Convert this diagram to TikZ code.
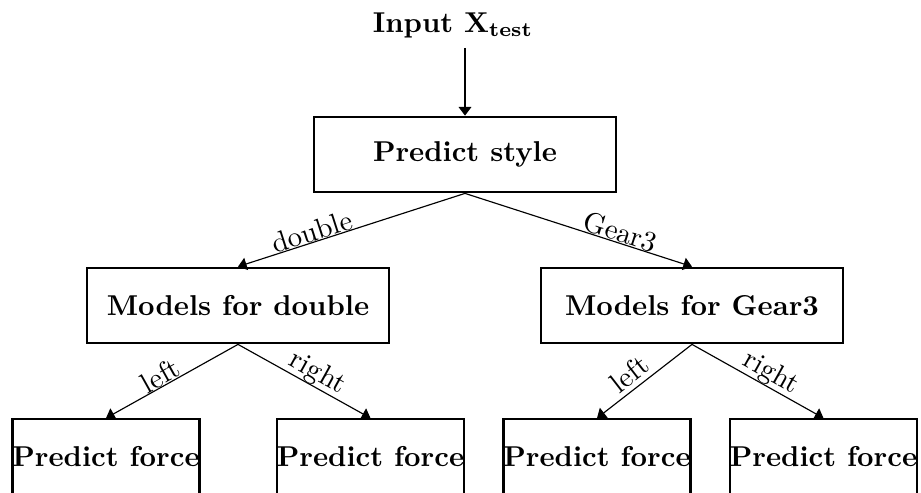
\documentclass[tikz,border=0pt]{standalone}
\usetikzlibrary{arrows.meta}
\begin{document}
\begin{tikzpicture}[x=0.3484pt,y=-0.3484pt,
  box/.style={draw, line width=0.8pt, minimum width=105pt, minimum height=26.3pt, font=\bfseries, inner sep=0pt},
  leaf/.style={box, minimum width=65.2pt},
  arr/.style={line width=0.4pt, -{Triangle[length=3pt,width=4.4pt]}},
  lab/.style={sloped, anchor=south, inner sep=0pt}]
\useasboundingbox (0,0) rectangle (921,493);
\clip (0,0) rectangle (921,493);
\node[font=\bfseries] (in) at (453,25) {Input $\mathbf{X}_{\mathbf{test}}$};
\node[box] (style) at (465,154.5) {Predict style};
\node[box] (md) at (238,305.5) {Models for double};
\node[box] (mg) at (692,305.5) {Models for Gear3};
\node[leaf] (f1) at (106,457) {Predict force};
\node[leaf] (f2) at (370.5,457) {Predict force};
\node[leaf] (f3) at (597,457) {Predict force};
\node[leaf] (f4) at (823.5,457) {Predict force};
\draw[arr] (in.south -| style.north) -- (style.north);
\draw[arr] (style.south) -- node[lab, pos=0.66] {double} (md.north);
\draw[arr] (style.south) -- node[lab, pos=0.67] {Gear3} (mg.north);
\draw[arr] (md.south) -- node[lab, pos=0.55] {left} (f1.north);
\draw[arr] (md.south) -- node[lab, pos=0.55] {right} (f2.north);
\draw[arr] (mg.south) -- node[lab, pos=0.56, inner sep=1.5pt] {left} (f3.north);
\draw[arr] (mg.south) -- node[lab, pos=0.55] {right} (f4.north);
\end{tikzpicture}
\end{document}
